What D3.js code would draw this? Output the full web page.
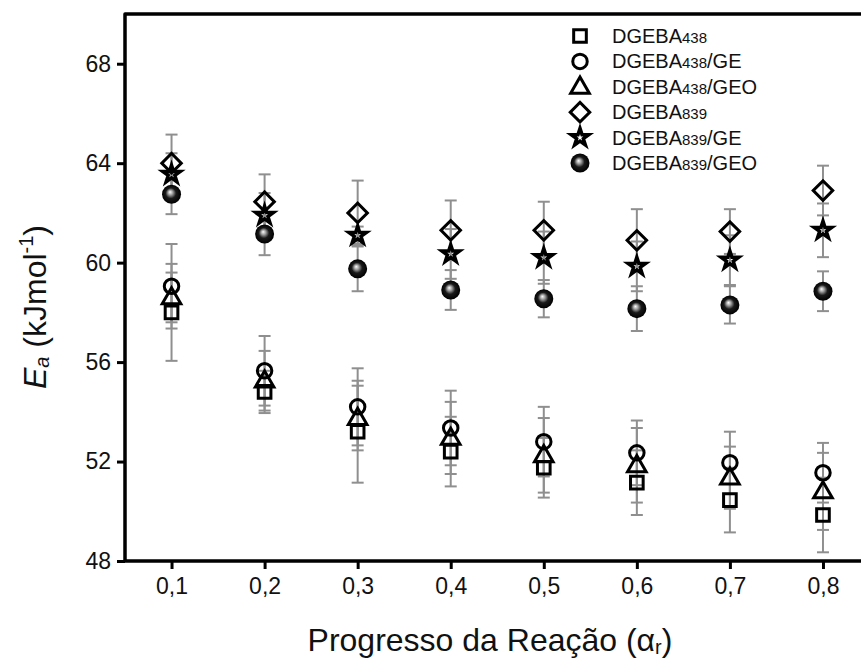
<!DOCTYPE html>
<html>
<head>
<meta charset="utf-8">
<script src="https://cdn.jsdelivr.net/npm/d3@7"></script>
<style>
  body { margin: 0; background: #fff; }
  svg { display: block; font-family: "Liberation Sans", Arial, sans-serif; }
</style>
</head>
<body>
<svg id="chart" width="861" height="662"></svg>
<script>
// conversion values (alpha_r)
var alpha = [0.1, 0.2, 0.3, 0.4, 0.5, 0.6, 0.7, 0.8];
var xTickLabels = ["0,1", "0,2", "0,3", "0,4", "0,5", "0,6", "0,7", "0,8"];
var yTicks = [48, 52, 56, 60, 64, 68];

// Ea (kJ/mol) and standard deviations
var dgeba438      = [58.0, 54.8, 53.2, 52.4, 51.75, 51.15, 50.45, 49.85];
var dgeba438Err   = [1.95, 0.85, 2.05, 1.4, 1.2, 1.3, 1.3, 1.5];
var dgeba438GE    = [59.05, 55.65, 54.2, 53.35, 52.8, 52.35, 51.95, 51.55];
var dgeba438GEErr = [1.7, 1.4, 1.55, 1.5, 1.4, 1.3, 1.25, 1.2];
var dgeba438GEO   = [58.6, 55.25, 53.75, 52.95, 52.25, 51.85, 51.35, 50.8];
var dgeba438GEOErr= [1.0, 1.2, 1.3, 1.45, 1.5, 1.5, 1.25, 1.55];
var dgeba839      = [64.0, 62.45, 62.0, 61.3, 61.3, 60.9, 61.25, 62.9];
var dgeba839Err   = [1.15, 1.1, 1.3, 1.2, 1.15, 1.25, 0.9, 1.0];
var dgeba839GE    = [63.55, 61.9, 61.1, 60.35, 60.2, 59.85, 60.1, 61.3];
var dgeba839GEErr = [0.85, 0.9, 0.35, 1.0, 1.05, 1.0, 1.0, 1.08];
var dgeba839GEO   = [62.75, 61.15, 59.75, 58.9, 58.55, 58.15, 58.3, 58.85];
var dgeba839GEOErr= [0.8, 0.85, 0.9, 0.8, 0.75, 0.9, 0.75, 0.8];

var seriesNames = ["438", "438/GE", "438/GEO", "839", "839/GE", "839/GEO"];
var seriesShapes = ["square", "circle", "triangle", "diamond", "star", "sphere"];

var series = [
  {values: dgeba438, err: dgeba438Err},
  {values: dgeba438GE, err: dgeba438GEErr},
  {values: dgeba438GEO, err: dgeba438GEOErr},
  {values: dgeba839, err: dgeba839Err},
  {values: dgeba839GE, err: dgeba839GEErr},
  {values: dgeba839GEO, err: dgeba839GEOErr}
];

var svg = d3.select("#chart");
var plotLeft = 125, plotTop = 14, plotRight = 869.5, plotBottom = 561;

var x = d3.scaleLinear().domain([0.05, 0.85]).range([plotLeft, plotRight]);
var y = d3.scaleLinear().domain([48, 70]).range([plotBottom, plotTop]);

// sphere gradient
var defs = svg.append("defs");
var grad = defs.append("radialGradient")
  .attr("id", "sphere")
  .attr("cx", "50%").attr("cy", "50%").attr("r", "50%")
  .attr("fx", "42%").attr("fy", "38%");
grad.append("stop").attr("offset", "0%").attr("stop-color", "#ffffff");
grad.append("stop").attr("offset", "25%").attr("stop-color", "#a0a0a0");
grad.append("stop").attr("offset", "55%").attr("stop-color", "#1a1a1a");
grad.append("stop").attr("offset", "100%").attr("stop-color", "#000000");

function drawMarker(g, shape) {
  if (shape == "sphere") {
    g.append("circle").attr("r", 9.5).attr("fill", "url(#sphere)");
    return;
  }
  var sym;
  if (shape == "square") sym = d3.symbol(d3.symbolSquare, 160);
  if (shape == "circle") sym = d3.symbol(d3.symbolCircle, 165);
  if (shape == "triangle") sym = d3.symbol(d3.symbolTriangle, 150);
  if (shape == "diamond") sym = d3.symbol(d3.symbolSquare, 190);
  if (shape == "star") sym = d3.symbol(d3.symbolStar, 95);
  var p = g.append("path")
    .attr("d", sym())
    .attr("fill", "none")
    .attr("stroke", "#000")
    .attr("stroke-width", shape == "star" ? 3.5 : 3)
    .attr("stroke-linejoin", "miter");
  if (shape == "diamond") p.attr("transform", "rotate(45)");
  if (shape == "triangle") p.attr("transform", "translate(0,1)");
}

// error bars
var errG = svg.append("g");
series.forEach(function(s) {
  alpha.forEach(function(a, i) {
    var cx = x(a), y0 = y(s.values[i] - s.err[i]), y1 = y(s.values[i] + s.err[i]);
    errG.append("line").attr("x1", cx).attr("x2", cx).attr("y1", y0).attr("y2", y1);
    errG.append("line").attr("x1", cx - 6).attr("x2", cx + 6).attr("y1", y0).attr("y2", y0);
    errG.append("line").attr("x1", cx - 6).attr("x2", cx + 6).attr("y1", y1).attr("y2", y1);
  });
});
errG.selectAll("line").attr("stroke", "#8f8f8f").attr("stroke-width", 2);

// markers
series.forEach(function(s, k) {
  alpha.forEach(function(a, i) {
    var g = svg.append("g").attr("transform", "translate(" + x(a) + "," + y(s.values[i]) + ")");
    drawMarker(g, seriesShapes[k]);
  });
});

// axes
var xAxis = d3.axisBottom(x).tickValues(alpha)
  .tickFormat(function(d, i){ return xTickLabels[i]; })
  .tickSize(8).tickSizeOuter(0).tickPadding(9);
var yAxis = d3.axisLeft(y).tickValues(yTicks)
  .tickFormat(d3.format("d"))
  .tickSize(8).tickSizeOuter(0).tickPadding(6);

var gX = svg.append("g").attr("transform", "translate(0," + plotBottom + ")").call(xAxis);
var gY = svg.append("g").attr("transform", "translate(" + plotLeft + ",0)").call(yAxis);
[gX, gY].forEach(function(g) {
  g.attr("font-size", null).attr("font-family", null);
  g.select(".domain").remove();
  g.selectAll(".tick line").attr("stroke", "#000").attr("stroke-width", 3);
  g.selectAll(".tick text").attr("fill", "#111").style("font-size", "23px");
});

// frame
svg.append("rect")
  .attr("x", plotLeft).attr("y", plotTop)
  .attr("width", plotRight - plotLeft).attr("height", plotBottom - plotTop)
  .attr("fill", "none").attr("stroke", "#000").attr("stroke-width", 3.5)
  .attr("stroke-linejoin", "round");

// legend
var legend = svg.append("g");
seriesNames.forEach(function(name, k) {
  var ly = 36 + k * 25.4;
  var g = legend.append("g").attr("transform", "translate(580," + ly + ")");
  drawMarker(g, seriesShapes[k]);
  var parts = name.split("/");
  var t = legend.append("text").attr("x", 612).attr("y", ly + 7)
    .style("font-size", "20px").attr("fill", "#111");
  t.append("tspan").text("DGEBA");
  t.append("tspan").text(parts[0]).style("font-size", "15px");
  if (parts.length > 1) t.append("tspan").text("/" + parts[1]);
});

// axis titles
var yt = svg.append("text")
  .attr("transform", "translate(46,307) rotate(-90)")
  .attr("text-anchor", "middle")
  .style("font-size", "32px").attr("fill", "#111");
yt.append("tspan").text("E").style("font-style", "italic");
yt.append("tspan").text("a").style("font-size", "20px").style("font-style", "italic").attr("dy", 3);
yt.append("tspan").text(" (kJmol").attr("dy", -3);
yt.append("tspan").text("-1").style("font-size", "20px").attr("dy", -13);
yt.append("tspan").text(")").attr("dy", 13);

var xt = svg.append("text")
  .attr("x", 490).attr("y", 651)
  .attr("text-anchor", "middle")
  .style("font-size", "32px").attr("fill", "#111");
xt.append("tspan").text("Progresso da Reação (");
xt.append("tspan").text("α");
xt.append("tspan").text("r").style("font-size", "20px").attr("dy", 3);
xt.append("tspan").text(")").attr("dy", -3);
</script>
</body>
</html>
